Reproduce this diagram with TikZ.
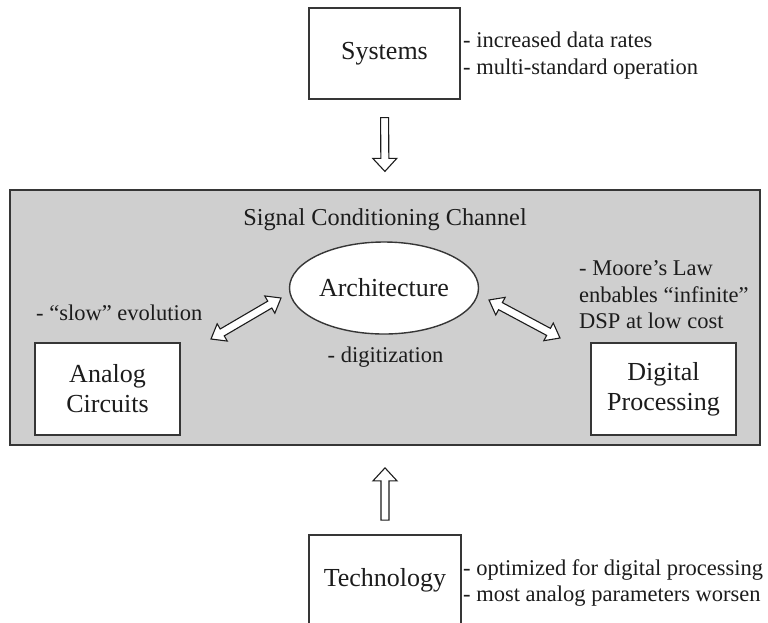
\documentclass[tikz,border=0pt]{standalone}
\usepackage{fontspec}
\setmainfont{Liberation Serif}
\usetikzlibrary{calc,shapes.geometric}

\definecolor{chanfill}{HTML}{CFCFCF}
\definecolor{edge}{HTML}{363636}
\definecolor{ink}{HTML}{1C1C1C}

\newcommand\lblfont{\fontsize{26}{30}\selectfont}
\newcommand\notefont{\fontsize{22.5}{26.5}\selectfont}
\newcommand\titlefont{\fontsize{24.3}{28}\selectfont}

% hollow block arrow from #1 to the tip #2
\newcommand\SingleBlockArrow[2]{%
  \path ($(#2)!13pt!(#1)$) coordinate (hb);
  \draw[blk] ($(#1)!4pt!90:(#2)$) -- ($(hb)!4pt!90:(#2)$) -- ($(hb)!12pt!90:(#2)$)
    -- (#2) -- ($(hb)!12pt!-90:(#2)$) -- ($(hb)!4pt!-90:(#2)$)
    -- ($(#1)!4pt!-90:(#2)$) -- cycle;}

% hollow block arrow with a head at both ends
\newcommand\DoubleBlockArrow[2]{%
  \path ($(#1)!13pt!(#2)$) coordinate (ha) ($(#2)!13pt!(#1)$) coordinate (hb);
  \draw[blk] (#1) -- ($(ha)!10pt!90:(#2)$) -- ($(ha)!4pt!90:(#2)$)
    -- ($(hb)!4pt!90:(#2)$) -- ($(hb)!10pt!90:(#2)$) -- (#2)
    -- ($(hb)!10pt!-90:(#2)$) -- ($(hb)!4pt!-90:(#2)$)
    -- ($(ha)!4pt!-90:(#2)$) -- ($(ha)!10pt!-90:(#2)$) -- cycle;}

\tikzset{
  boxnode/.style={draw=edge, line width=1.4pt, fill=white, align=center,
    inner sep=0pt, font=\lblfont, text=ink},
  notetext/.style={align=left, inner sep=0pt, font=\notefont, text=ink},
  blk/.style={draw=ink, line width=1.1pt, fill=white, line join=miter},
}

\begin{document}
\begin{tikzpicture}[x=1pt, y=-1pt]
  \useasboundingbox (0,0) rectangle (768,622);
  \clip (0,0) rectangle (768,622);
  \fill[white] (0,0) rectangle (768,622);

  % outer blocks
  \node[boxnode, minimum width=151pt, minimum height=91pt] (sys) at (384.5,53.5) {Systems};
  \node[notetext, anchor=west] (sysnote) at (463,55.5)
    {- increased data rates\\- multi-standard operation};

  \node[boxnode, minimum width=152pt, minimum height=91pt] (tech) at (385,580.5) {Technology};
  \node[notetext, anchor=west] (technote) at (463,583)
    {- optimized for digital processing\\- most analog parameters worsen};

  % signal conditioning channel
  \node[draw=edge, line width=1.4pt, fill=chanfill, minimum width=750pt,
        minimum height=255pt, inner sep=0pt] (chan) at (385,317.5) {};
  \node[inner sep=0pt, font=\titlefont, text=ink] (title) at (385,220)
    {Signal Conditioning Channel};

  \node[boxnode, ellipse, minimum width=189pt, minimum height=92pt] (arch) at (384,288)
    {Architecture};
  \node[notetext] (digit) at (385.5,357) {- digitization};

  \node[boxnode, minimum width=145pt, minimum height=92pt] (analog) at (107.5,389)
    {Analog\\Circuits};
  \node[notetext, anchor=west] (slow) at (36,313) {- “slow” evolution};

  \node[boxnode, minimum width=145pt, minimum height=92pt] (digital) at (663.5,389)
    {Digital\\Processing};
  \node[notetext, anchor=west] (moore) at (579,295)
    {- Moore’s Law\\enbables “infinite”\\DSP at low cost};

  % vertical influences
  \coordinate (dA) at ($(sys.south)!0.2!(chan.north)$);
  \coordinate (dB) at ($(sys.south)!0.8!(chan.north)$);
  \SingleBlockArrow{dA}{dB}
  \coordinate (uA) at ($(tech.north)!0.16!(chan.south)$);
  \coordinate (uB) at ($(tech.north)!0.75!(chan.south)$);
  \SingleBlockArrow{uA}{uB}

  % links between architecture and the two domains
  \coordinate (la1) at (211,339);
  \coordinate (la2) at (281,298);
  \DoubleBlockArrow{la1}{la2}
  \coordinate (ra1) at (489,300);
  \coordinate (ra2) at (560,338);
  \DoubleBlockArrow{ra1}{ra2}
\end{tikzpicture}
\end{document}
